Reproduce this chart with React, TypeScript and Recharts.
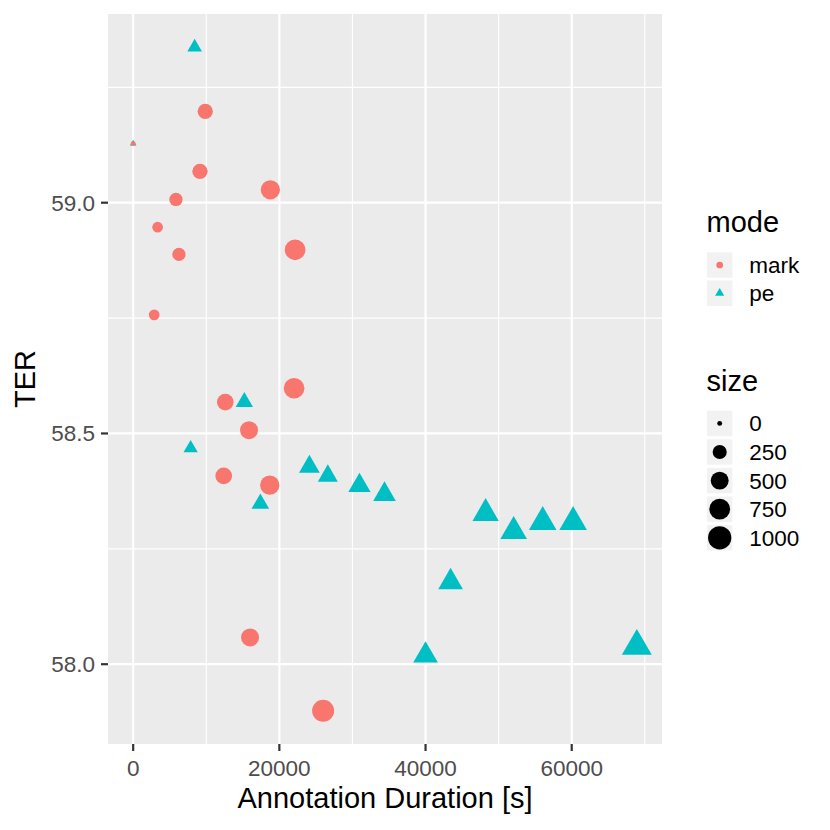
import React from 'react';
import { ScatterChart, Scatter, XAxis, YAxis, CartesianGrid } from 'recharts';

// mode = mark
const markDuration = [9863, 0, 9137, 5850, 18767, 3343, 6260, 22151, 2877, 12603, 22014, 15850, 12384, 18685, 15987, 25987];
const markTer = [59.198, 59.128, 59.068, 59.007, 59.028, 58.947, 58.888, 58.898, 58.757, 58.568, 58.598, 58.507, 58.408, 58.388, 58.058, 57.899];
const markSize = [319, 0, 319, 208, 612, 99, 208, 737, 99, 411, 737, 507, 411, 612, 507, 863];

// mode = pe
const peDuration = [8411, 0, 15206, 7863, 24110, 26631, 30960, 34384, 17398, 48220, 52056, 56029, 60193, 43426, 40001, 68906];
const peTer = [59.337, 59.128, 58.568, 58.468, 58.428, 58.408, 58.387, 58.368, 58.348, 58.327, 58.288, 58.308, 58.308, 58.178, 58.019, 58.039];
const peSize = [106, 0, 188, 96, 325, 292, 402, 420, 199, 632, 656, 722, 722, 532, 532, 891];

const xTicks = [0, 20000, 40000, 60000];
const xMinor = [10000, 30000, 50000, 70000];
const yTicks = [58.0, 58.5, 59.0];
const yMinor = [58.25, 58.75, 59.25];
const modes = ['mark', 'pe'];
const sizeBreaks = [0, 250, 500, 750, 1000];

const RED = '#F8766D';
const CYAN = '#00BFC4';
const FONT = '"Liberation Sans", Arial, Helvetica, sans-serif';

const toRows = (xs: number[], ys: number[], ss: number[]) =>
  xs.map((x, i) => ({ x, y: ys[i], size: ss[i] }));

const markData = toRows(markDuration, markTer, markSize);
const peData = toRows(peDuration, peTer, peSize);

// ggplot-style 5% expansion of the data range
const expand = (vals: number[]): [number, number] => {
  const lo = Math.min(...vals);
  const hi = Math.max(...vals);
  const pad = (hi - lo) * 0.05;
  return [lo - pad, hi + pad];
};
const xDomain = expand([...markDuration, ...peDuration]);
const yDomain = expand([...markTer, ...peTer]);

// point diameter in px, area-style size scale (0..1000 -> size 1..6)
const diam = (v: number) => 3.68 * (1.332 + 5 * Math.sqrt(v / 1000));
const KEY_DIAM = 3.68 * (1.5 + 0.332); // default point size in the mode legend

const circle = (cx: number, cy: number, d: number, fill: string) => (
  <circle cx={cx} cy={cy} r={d / 2} fill={fill} />
);

const triangle = (cx: number, cy: number, d: number, fill: string) => {
  const r = 1.555 * (d / 2);
  const hw = 0.866 * r;
  const pts = `${cx},${cy - r} ${cx - hw},${cy + 0.5 * r} ${cx + hw},${cy + 0.5 * r}`;
  return <polygon points={pts} fill={fill} />;
};

const MarkShape = (props: any) => circle(props.cx, props.cy, diam(props.payload.size), RED);
const PeShape = (props: any) => triangle(props.cx, props.cy, diam(props.payload.size), CYAN);

const XTitle = (props: any) => {
  const vb = props.viewBox || { x: 108, y: 744, width: 554, height: 86 };
  return (
    <text x={vb.x + vb.width / 2} y={808} textAnchor="middle" fontSize={29} fontFamily={FONT} fill="#000">
      Annotation Duration [s]
    </text>
  );
};

const YTitle = (props: any) => {
  const vb = props.viewBox || { x: 0, y: 14, width: 108, height: 730 };
  const cy = vb.y + vb.height / 2;
  return (
    <text x={35} y={cy} transform={`rotate(-90, 35, ${cy})`} textAnchor="middle" fontSize={29} fontFamily={FONT} fill="#000">
      TER
    </text>
  );
};

function LegendOverlay() {
  const keyX = 707;
  const labelX = 749.3;
  const modeTop = 252.3;
  const sizeTop = 410.7;
  const step = 28.2;
  return (
    <svg width={830} height={830} style={{ position: 'absolute', left: 0, top: 0, pointerEvents: 'none' }}>
      <text x={706.5} y={231.7} fontSize={29} fontFamily={FONT} fill="#000">mode</text>
      {modes.map((m, i) => {
        const top = modeTop + i * step;
        const cx = keyX + 12.7;
        const cy = top + 12.7;
        return (
          <g key={m}>
            <rect x={keyX} y={top} width={25.4} height={25.4} fill="#F2F2F2" />
            {m === 'mark' ? circle(cx, cy, KEY_DIAM, RED) : triangle(cx, cy, KEY_DIAM, CYAN)}
            <text x={labelX} y={cy + 7.9} fontSize={22.5} fontFamily={FONT} fill="#000">{m}</text>
          </g>
        );
      })}
      <text x={706.5} y={391} fontSize={29} fontFamily={FONT} fill="#000">size</text>
      {sizeBreaks.map((b, i) => {
        const top = sizeTop + i * (step + 0.4);
        const cx = keyX + 12.7;
        const cy = top + 12.7;
        return (
          <g key={b}>
            <rect x={keyX} y={top} width={25.4} height={25.4} fill="#F2F2F2" />
            {circle(cx, cy, diam(b), '#000')}
            <text x={labelX} y={cy + 7.9} fontSize={22.5} fontFamily={FONT} fill="#000">{b}</text>
          </g>
        );
      })}
    </svg>
  );
}

export default function App() {
  return (
    <div style={{ position: 'absolute', left: 0, top: 0, width: 830, height: 830, background: '#fff' }}>
      <ScatterChart width={830} height={830} margin={{ top: 14, right: 168, bottom: 0, left: 0 }}>
        <CartesianGrid fill="#EBEBEB" stroke="#fff" strokeWidth={1.1} horizontalValues={yMinor} verticalValues={xMinor} />
        <CartesianGrid stroke="#fff" strokeWidth={2.2} horizontalValues={yTicks} verticalValues={xTicks} />
        <XAxis
          type="number"
          dataKey="x"
          domain={xDomain}
          ticks={xTicks}
          allowDataOverflow
          height={86}
          axisLine={false}
          tickSize={7}
          tickMargin={9}
          tickLine={{ stroke: '#333333', strokeWidth: 2.2 }}
          tick={{ fill: '#4D4D4D', fontSize: 22.5, fontFamily: FONT }}
          label={<XTitle />}
        />
        <YAxis
          type="number"
          dataKey="y"
          domain={yDomain}
          ticks={yTicks}
          allowDataOverflow
          width={108}
          axisLine={false}
          tickSize={7}
          tickMargin={6}
          tickFormatter={(v: number) => v.toFixed(1)}
          tickLine={{ stroke: '#333333', strokeWidth: 2.2 }}
          tick={{ fill: '#4D4D4D', fontSize: 22.5, fontFamily: FONT }}
          label={<YTitle />}
        />
        <Scatter name="pe" data={peData} shape={PeShape} isAnimationActive={false} />
        <Scatter name="mark" data={markData} shape={MarkShape} isAnimationActive={false} />
      </ScatterChart>
      <LegendOverlay />
    </div>
  );
}
